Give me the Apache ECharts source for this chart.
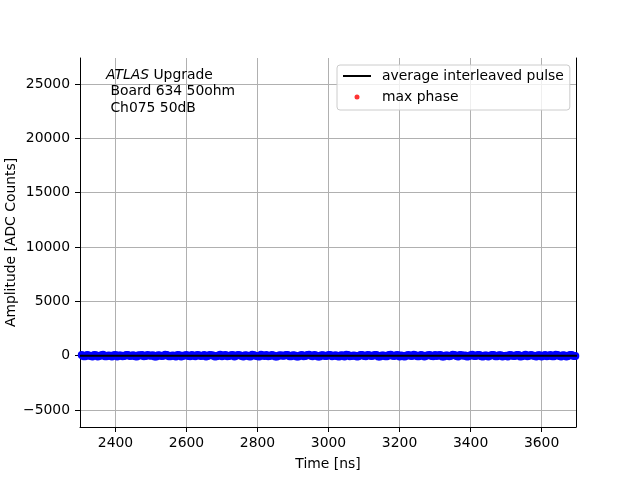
<!DOCTYPE html>
<html><head><meta charset="utf-8">
<script src="https://cdn.jsdelivr.net/npm/echarts@6/dist/echarts.min.js"></script>
<style>html,body{margin:0;padding:0;background:#fff}#c{width:640px;height:480px}</style>
</head><body><div id="c"></div>
<script>
// Sample times [ns] of the interleaved points
const times = [
2305,2310,2315,2320,2325,2330,2335,2340,2345,2350,2355,2360,2365,2370,2375,2380,2385,2390,2395,2400,
2405,2410,2415,2420,2425,2430,2435,2440,2445,2450,2455,2460,2465,2470,2475,2480,2485,2490,2495,2500,
2505,2510,2515,2520,2525,2530,2535,2540,2545,2550,2555,2560,2565,2570,2575,2580,2585,2590,2595,2600,
2605,2610,2615,2620,2625,2630,2635,2640,2645,2650,2655,2660,2665,2670,2675,2680,2685,2690,2695,2700,
2705,2710,2715,2720,2725,2730,2735,2740,2745,2750,2755,2760,2765,2770,2775,2780,2785,2790,2795,2800,
2805,2810,2815,2820,2825,2830,2835,2840,2845,2850,2855,2860,2865,2870,2875,2880,2885,2890,2895,2900,
2905,2910,2915,2920,2925,2930,2935,2940,2945,2950,2955,2960,2965,2970,2975,2980,2985,2990,2995,3000,
3005,3010,3015,3020,3025,3030,3035,3040,3045,3050,3055,3060,3065,3070,3075,3080,3085,3090,3095,3100,
3105,3110,3115,3120,3125,3130,3135,3140,3145,3150,3155,3160,3165,3170,3175,3180,3185,3190,3195,3200,
3205,3210,3215,3220,3225,3230,3235,3240,3245,3250,3255,3260,3265,3270,3275,3280,3285,3290,3295,3300,
3305,3310,3315,3320,3325,3330,3335,3340,3345,3350,3355,3360,3365,3370,3375,3380,3385,3390,3395,3400,
3405,3410,3415,3420,3425,3430,3435,3440,3445,3450,3455,3460,3465,3470,3475,3480,3485,3490,3495,3500,
3505,3510,3515,3520,3525,3530,3535,3540,3545,3550,3555,3560,3565,3570,3575,3580,3585,3590,3595,3600,
3605,3610,3615,3620,3625,3630,3635,3640,3645,3650,3655,3660,3665,3670,3675,3680,3685,3690,3695];
// Amplitudes [ADC counts] of the interleaved points
const amps = [
60,-50,-40,75,20,-30,-75,55,50,-70,-15,35,80,-60,-60,20,5,-80,40,65,
-70,10,30,-50,-30,70,65,-20,-10,50,-55,-75,40,30,70,-40,-35,60,10,-5,
50,-70,-80,45,30,-20,-10,80,75,-60,-50,15,0,-80,55,40,-70,-10,25,70,
-20,-50,70,0,-60,60,40,-35,0,75,-80,-20,60,50,20,-70,-45,10,80,-60,
10,55,-60,-30,35,70,-70,-10,60,40,-20,-70,45,30,-40,-80,80,50,-5,-45,
-65,80,20,-15,75,-55,-30,60,10,-70,-75,30,50,0,-10,70,70,-60,-50,40,
30,-80,-70,20,60,-45,-30,70,80,-10,-40,60,15,-65,-80,40,50,-25,-20,75,
70,-40,-10,50,-55,-70,40,10,-75,80,60,-50,-30,30,5,-65,-60,60,75,-20,
-40,70,50,-30,-10,75,70,-70,-70,10,30,-55,-50,70,80,-10,-20,50,60,-80,
10,-60,-80,30,65,-10,-35,80,40,-45,-60,55,20,-70,0,40,75,-25,-50,65,
-25,40,70,-65,-70,15,30,-50,-10,80,55,-30,-80,60,50,-10,10,-70,-40,50,
80,-20,-30,70,60,-60,-65,25,20,-80,-5,60,70,-40,-60,45,35,-65,-20,5,
-75,60,45,-30,-20,75,60,-70,-50,20,80,-50,-10,70,25,-20,-70,50,50,-80,
0,70,-60,-10,70,-50,-40,80,55,-30,-80,40,30,-70,-15,60,65,-35,-30];
// Average interleaved pulse
const pulseTimes = [2300,2400,2500,2600,2700,2800,2900,3000,3100,3200,3300,3400,3500,3600,3700];
const pulseAmps  = [3,-2,1,-4,2,0,-1,3,-2,1,0,-3,2,-1,1];
// Max phase points (none visible in range)
const maxPhaseTimes = [];
const maxPhaseAmps = [];
// Axis ticks
const xTicks = [2400,2600,2800,3000,3200,3400,3600];
const yTicks = [-5000,0,5000,10000,15000,20000,25000];
const seriesNames = ['average interleaved pulse','max phase'];
const annotation = ['ATLAS', ' Upgrade', ' Board 634 50ohm', ' Ch075 50dB'];

const FONT = 'DejaVu Sans';
const FS = 13.9;
const fmt = v => String(v).replace('-', '\u2212');

const chart = echarts.init(document.getElementById('c'), null, {renderer:'canvas'});
const axisCommon = {
  axisLine:{onZero:false, lineStyle:{color:'#000', width:1}},
  axisTick:{show:true, length:5, inside:false, lineStyle:{color:'#000', width:1}},
  splitLine:{show:true, lineStyle:{color:'#b0b0b0', width:1}},
  axisLabel:{color:'#000', fontFamily:FONT, fontSize:FS, margin:10, formatter:fmt, showMinLabel:true, showMaxLabel:true},
  nameTextStyle:{color:'#000', fontFamily:FONT, fontSize:FS}
};
const option = {
  animation:false,
  backgroundColor:'#fff',
  grid:{left:80, right:64, top:58, bottom:53, show:false, containLabel:false, outerBoundsMode:'none'},
  xAxis:[{type:'value', min:2300, max:3697, name:'Time [ns]', nameLocation:'middle', nameGap:30, nameMoveOverlap:false,
    ...axisCommon,
    axisTick:{...axisCommon.axisTick, customValues:xTicks},
    axisLabel:{...axisCommon.axisLabel, margin:9, customValues:xTicks},
    splitLine:{...axisCommon.splitLine}
  },{type:'value', min:2300, max:3697, position:'top', axisLine:{show:true, lineStyle:{color:'#000'}}, axisTick:{show:false}, axisLabel:{show:false}, splitLine:{show:false}}],
  yAxis:[{type:'value', min:-6560, max:27400, name:'Amplitude [ADC Counts]', nameLocation:'middle', nameGap:62, nameMoveOverlap:false,
    ...axisCommon,
    axisTick:{...axisCommon.axisTick, customValues:yTicks},
    axisLabel:{...axisCommon.axisLabel, customValues:yTicks},
  },{type:'value', min:-6560, max:27400, position:'right', axisLine:{show:true, lineStyle:{color:'#000'}}, axisTick:{show:false}, axisLabel:{show:false}, splitLine:{show:false}}],
  legend:{
    left:337, top:65, orient:'vertical', itemWidth:28, itemHeight:14, itemGap:7,
    padding:[4,6,6,6], backgroundColor:'rgba(255,255,255,0.8)', borderColor:'#cccccc', borderWidth:1, borderRadius:3,
    textStyle:{color:'#000', fontFamily:FONT, fontSize:FS, padding:[0,0,0,6]},
    data:[
      {name:seriesNames[0], icon:'path://M0,0 M28,14 M0,6 L28,6 L28,8 L0,8 Z', itemStyle:{color:'#000'}},
      {name:seriesNames[1], icon:'path://M0,0 M28,14 M14,4.5 A2.5,2.5 0 1 1 14,9.5 A2.5,2.5 0 1 1 14,4.5 Z', itemStyle:{color:'#ff0000'}}
    ]
  },
  graphic:[{type:'text', left:106, top:67, style:{
    text:'{i|'+annotation[0]+'}'+annotation[1]+'\n'+annotation[2]+'\n'+annotation[3],
    font: FS+'px "'+FONT+'"', fill:'#000', lineHeight:16.5,
    rich:{i:{fontStyle:'italic', fontFamily:FONT, fontSize:FS, fill:'#000', lineHeight:16.5}}
  }, z:100}],
  series:[
    {name:'interleaved', type:'scatter', symbol:'circle', symbolSize:8, itemStyle:{color:'#0000ff', opacity:1},
      data: times.map((t,i)=>[t, amps[i]]), z:2, silent:true},
    {name:seriesNames[0], type:'line', showSymbol:false, symbol:'none', lineStyle:{color:'#000', width:2}, itemStyle:{color:'#000'},
      data: pulseTimes.map((t,i)=>[t, pulseAmps[i]]), z:3, clip:true},
    {name:seriesNames[1], type:'scatter', symbolSize:5, itemStyle:{color:'#ff0000'},
      data: maxPhaseTimes.map((t,i)=>[t, maxPhaseAmps[i]]), z:4}
  ]
};
chart.setOption(option);
</script></body></html>
